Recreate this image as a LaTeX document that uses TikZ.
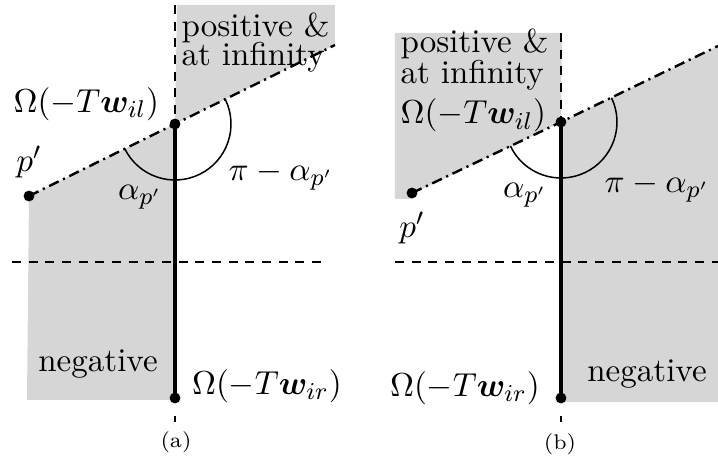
\documentclass[tikz,border=0pt]{standalone}
\usepackage{amsmath,bm}
\begin{document}
\begin{tikzpicture}[x=0.33pt,y=-0.33pt,
  grayarea/.style={fill=black!16,draw=none},
  dashdot/.style={line width=0.8pt,dash pattern=on 3.5pt off 1.6pt on 0.7pt off 1.6pt},
  thinDash/.style={line width=0.4pt,dash pattern=on 3pt off 2.5pt},
  seg/.style={line width=1.4pt},
  dot/.style={circle,fill=black,inner sep=0pt,minimum size=3.6pt},
  lbl/.style={inner sep=0pt,font=\fontsize{10.9}{13}\selectfont},
  captxt/.style={inner sep=0pt,font=\scriptsize}]
\useasboundingbox (0,0) rectangle (718,463);
% ---------------- (a) ----------------
\coordinate (vaTop) at (175,5);
\coordinate (aEnd) at (335,45);
\coordinate (hLa) at (12,262);
\coordinate (hRa) at (323,262);
\fill[grayarea] (177,5) -- (335,5) -- (335,45) -- (175,124) -- cycle;
\fill[grayarea] (29,196) -- (175,124) -- (175,400) -- (27,400) -- cycle;
\node[dot] (va) at (175,124) {};
\node[dot] (pa) at (29,196) {};
\node[dot] (ba) at (175,398) {};
\coordinate (ta1) at (175,416);
\coordinate (ta2) at (175,422);
\draw[thinDash] (vaTop) -- (va.center);
\draw[thinDash] (hLa) -- (hRa);
\draw[dashdot] (pa.center) -- (va.center) -- (aEnd);
\draw[seg] (va.center) -- (ba.center);
\draw[line width=0.4pt] (ta1) -- (ta2);
\draw[line width=0.5pt] (va.center) ++(153.8:56) arc[start angle=153.8,end angle=-26.2,radius=56];
\node[lbl,anchor=base west] (posa) at (181,36) {positive \&};
\node[lbl,anchor=base west] (infa) at (181,66) {at infinity};
\node[lbl,anchor=base west] (oila) at (13,112) {$\Omega(-T\bm{w}_{il})$};
\node[lbl] (ppa) at (29,162) {$p'$};
\node[lbl] (alpa) at (140,197) {$\alpha_{p'}$};
\node[lbl] (pia) at (281,176) {$\pi-\alpha_{p'}$};
\node[lbl,anchor=base] (nega) at (98,372) {negative};
\node[lbl] (oira) at (267,386) {$\Omega(-T\bm{w}_{ir})$};
\node[captxt] (capa) at (176,442) {(a)};
% ---------------- (b) ----------------
\coordinate (vbTop) at (561,33);
\coordinate (bEnd) at (718,46);
\coordinate (hLb) at (395,262);
\coordinate (hRb) at (718,262);
\fill[grayarea] (395,33) -- (562,33) -- (561,122) -- (412,194) -- (412,199) -- (395,199) -- cycle;
\fill[grayarea] (561,122) -- (718,46) -- (718,402) -- (561,402) -- cycle;
\node[dot] (vb) at (561,122) {};
\node[dot] (pb) at (412,193) {};
\node[dot] (bb) at (561,398) {};
\coordinate (tb1) at (561,416);
\coordinate (tb2) at (561,422);
\draw[thinDash] (vbTop) -- (vb.center);
\draw[thinDash] (hLb) -- (hRb);
\draw[dashdot] (pb.center) -- (vb.center) -- (bEnd);
\draw[seg] (vb.center) -- (bb.center);
\draw[line width=0.4pt] (tb1) -- (tb2);
\draw[line width=0.5pt] (vb.center) ++(154.5:56) arc[start angle=154.5,end angle=-25.5,radius=56];
\node[lbl,anchor=base west] (posb) at (400,53) {positive \&};
\node[lbl,anchor=base west] (infb) at (400,84) {at infinity};
\node[lbl,anchor=base west] (oilb) at (400,124) {$\Omega(-T\bm{w}_{il})$};
\node[lbl] (ppb) at (412,228) {$p'$};
\node[lbl] (alpb) at (525,195) {$\alpha_{p'}$};
\node[lbl] (pib) at (657,188) {$\pi-\alpha_{p'}$};
\node[lbl,anchor=base] (negb) at (647,382) {negative};
\node[lbl] (oirb) at (465,388) {$\Omega(-T\bm{w}_{ir})$};
\node[captxt] (capb) at (560,444) {(b)};
\end{tikzpicture}
\end{document}
